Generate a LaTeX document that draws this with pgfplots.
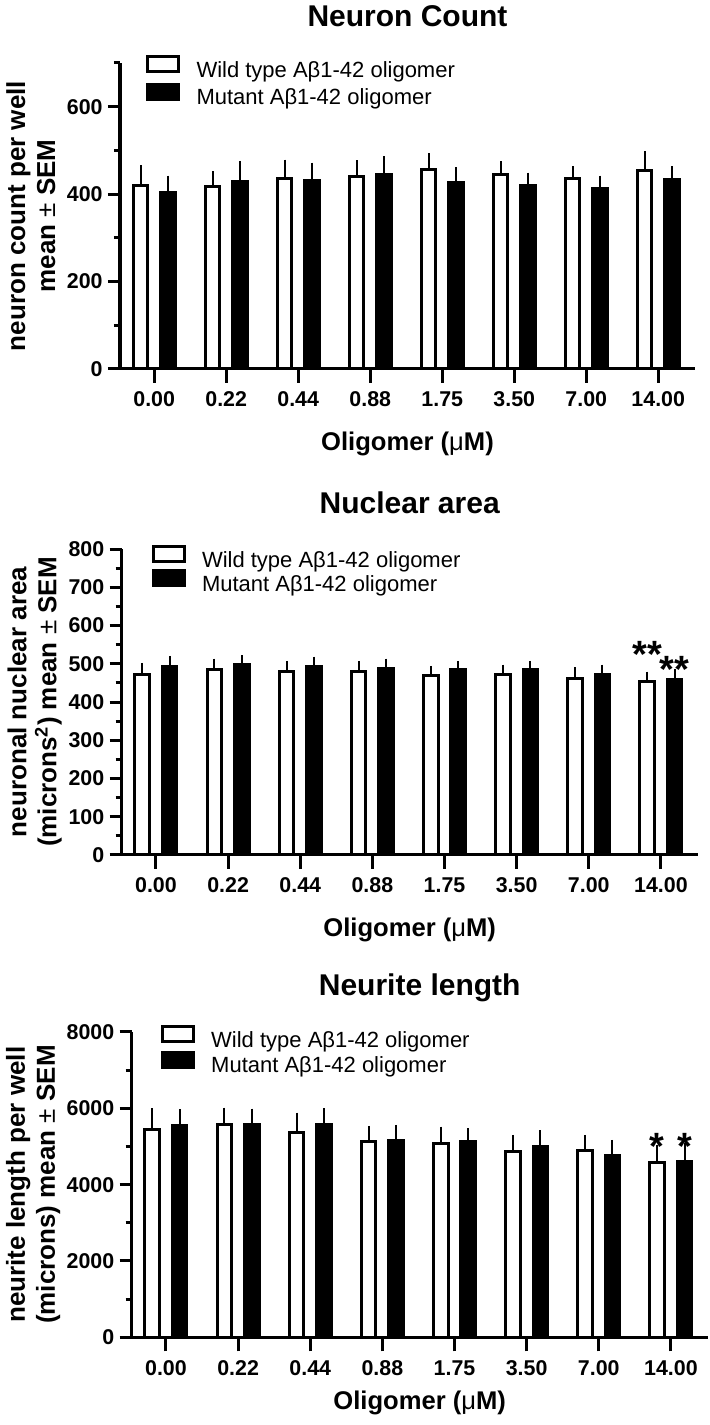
\documentclass[border=0pt]{standalone}
\usepackage{pgfplots}
\pgfplotsset{compat=1.18}
\usepackage{pgfplotstable}
\usepackage{fontspec}
\setmainfont{Liberation Sans}

\pgfplotstableread{
x wt wte mut mute
0 419 38 403 30
1 417 26 429 38
2 436 34 431 32
3 441 27 445 33
4 457 27 426 26
5 445 21 419 21
6 435 20 412 21
7 455 34 433 22
}\countdata

\pgfplotstableread{
x wt wte mut mute
0 473 19 494 16
1 485 18 498 14
2 480 17 492 16
3 481 16 488 15
4 468 16 484 13
5 473 14 484 13
6 461 19 471 16
7 453 16 459 17
}\areadata

\pgfplotstableread{
x wt wte mut mute
0 5435 461 5548 322
1 5565 348 5565 322
2 5374 409 5583 313
3 5130 305 5157 304
4 5070 347 5130 244
5 4870 330 5000 322
6 4887 313 4757 313
7 4583 347 4609 374
}\neuritedata

\pgfplotsset{
  panel/.style={
    scale only axis,
    width=288pt, height=153pt,
    anchor=south west,
    ybar=6.4pt, bar width=7.3pt,
    axis x line*=bottom, axis y line*=left,
    axis line style={line width=1.5pt, black},
    xmin=-0.475, xmax=7.51, ymin=0,
    xtick={0,...,7},
    xticklabels={0.00,0.22,0.44,0.88,1.75,3.50,7.00,14.00},
    tick align=outside,
    major tick length=6pt, minor tick length=3pt,
    tick style={line width=1.5pt, black},
    minor tick style={line width=1.5pt, black},
    xtick style={/pgfplots/major tick length=7pt},
    tick label style={font=\fontsize{10.7}{12}\selectfont\bfseries},
    yticklabel style={inner sep=2.5pt},
    xticklabel style={anchor=base, yshift=-13pt},
    /pgf/number format/assume math mode=true,
    /pgf/number format/set thousands separator={},
    scaled y ticks=false,
    clip=false,
    title style={at={(axis description cs:0.5,1)}, anchor=base, yshift=12pt, font=\fontsize{15}{17}\selectfont\bfseries},
    xlabel style={at={(axis description cs:0.5,0)}, anchor=base, yshift=-41pt, font=\fontsize{12.8}{15}\selectfont\bfseries},
    ylabel style={anchor=center, align=center, font=\fontsize{13}{15}\selectfont\bfseries},
    xlabel={Oligomer ({\mdseries μ}M)},
    legend style={at={(axis description cs:0,1)}, anchor=north west, draw=none, fill=none,
      inner sep=0pt, outer sep=0pt, row sep=0.2pt, column sep=8.25pt,
      nodes={inner sep=0pt, text height=8pt, text depth=2.5pt},
      font=\fontsize{11}{13}\selectfont},
    legend cell align=left,
  },
  wt/.style={draw=black, fill=white, line width=1.5pt,
    legend image code/.code={\draw[black, fill=white, line width=1.5pt] (0pt,0.1pt) rectangle (15.5pt,7.6pt);},
    error bars/.cd, y dir=plus, y explicit, error mark=-,
    error bar style={line width=1pt, black},
    error mark options={line width=1pt, mark size=2pt, black}},
  mut/.style={draw=black, fill=black, line width=1.5pt,
    legend image code/.code={\draw[black, fill=black, line width=1.5pt] (0pt,0.1pt) rectangle (15.5pt,7.6pt);},
    error bars/.cd, y dir=plus, y explicit, error mark=-,
    error bar style={line width=1pt, black},
    error mark options={line width=1pt, mark size=2pt, black}},
}

\begin{document}
\begin{tikzpicture}
\useasboundingbox (0,0) rectangle (354.5pt,712.5pt);

% Panel 1
\begin{axis}[panel, at={(60pt,528pt)}, width=287.5pt,
  ymax=700, ytick={0,200,400,600}, minor ytick={100,300,500,700},
  title={Neuron Count},
  ylabel={neuron count per well\\mean {\mdseries ±} SEM},
  ylabel style={at={(axis description cs:-0.155,0.5)}},
  legend style={xshift=13pt, yshift=3.9pt}]
\addplot[wt] table[x=x, y=wt, y error=wte] {\countdata};
\addlegendentry{Wild type Aβ1-42 oligomer}
\addplot[mut] table[x=x, y=mut, y error=mute] {\countdata};
\addlegendentry{Mutant Aβ1-42 oligomer}
\end{axis}

% Panel 2
\begin{axis}[panel, at={(60.85pt,285pt)},
  ymax=800, ytick={0,100,...,800}, minor ytick={50,150,...,750},
  title={Nuclear area},
  ylabel={neuronal nuclear area\\(microns\textsuperscript{2}) mean {\mdseries ±} SEM},
  ylabel style={at={(axis description cs:-0.151,0.5)}},
  legend style={xshift=14.9pt, yshift=2pt, row sep=-1.5pt}]
\addplot[wt] table[x=x, y=wt, y error=wte] {\areadata};
\addlegendentry{Wild type Aβ1-42 oligomer}
\addplot[mut] table[x=x, y=mut, y error=mute] {\areadata};
\addlegendentry{Mutant Aβ1-42 oligomer}
\node[font=\fontsize{19}{19}\selectfont\bfseries, anchor=base] at (axis cs:6.81,489) {**};
\node[font=\fontsize{19}{19}\selectfont\bfseries, anchor=base] at (axis cs:7.19,450) {**};
\end{axis}

% Panel 3
\begin{axis}[panel, at={(65.85pt,43.85pt)}, height=152.65pt,
  ymax=8000, ytick={0,2000,...,8000}, minor ytick={1000,3000,5000,7000},
  title={Neurite length},
  ylabel={neurite length per well\\(microns) mean {\mdseries ±} SEM},
  ylabel style={at={(axis description cs:-0.171,0.5)}},
  xlabel style={yshift=5pt},
  legend style={xshift=14.5pt, yshift=3.3pt, row sep=-1pt}]
\addplot[wt] table[x=x, y=wt, y error=wte] {\neuritedata};
\addlegendentry{Wild type Aβ1-42 oligomer}
\addplot[mut] table[x=x, y=mut, y error=mute] {\neuritedata};
\addlegendentry{Mutant Aβ1-42 oligomer}
\node[font=\fontsize{19}{19}\selectfont\bfseries, anchor=base] at (axis cs:6.81,4666) {*};
\node[font=\fontsize{19}{19}\selectfont\bfseries, anchor=base] at (axis cs:7.19,4666) {*};
\end{axis}
\end{tikzpicture}
\end{document}
